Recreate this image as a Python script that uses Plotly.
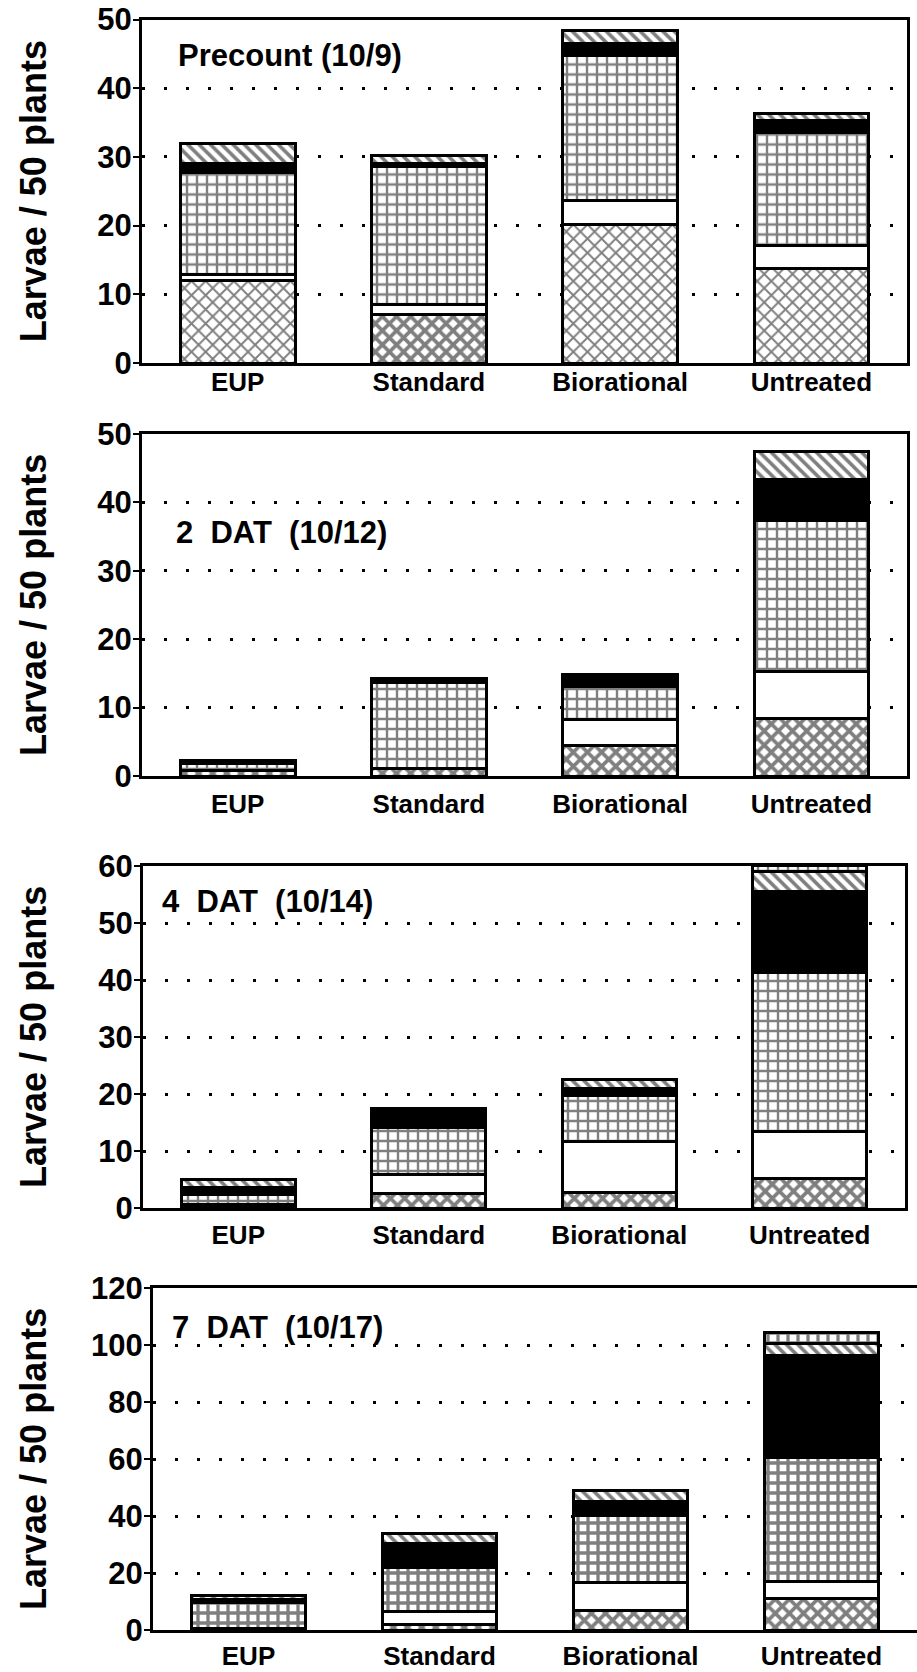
import plotly.graph_objects as go

# ---------------- data ----------------
categories = ["EUP", "Standard", "Biorational", "Untreated"]
panel_titles = ["Precount (10/9)", "2\u00a0\u00a0DAT\u00a0\u00a0(10/12)",
                "4\u00a0\u00a0DAT\u00a0\u00a0(10/14)", "7\u00a0\u00a0DAT\u00a0\u00a0(10/17)"]
y_title = "Larvae / 50 plants"
y_max = [50, 50, 60, 120]
y_step = [10, 10, 10, 20]

# stacked segments, bottom -> top (A crosshatch, B white, C grid, D black, E diagonal, F top grid)
precount_A = [12.0, 7.1, 20.1, 13.7]
precount_B = [0.85, 1.35, 3.6, 3.4]
precount_C = [14.85, 20.15, 21.0, 16.5]
precount_D = [1.4, 0.5, 1.8, 1.7]
precount_E = [2.8, 1.05, 1.9, 1.0]
precount_F = [None, None, None, None]

dat2_A = [0.8, 1.1, 4.4, 8.4]
dat2_B = [None, None, 3.8, 6.9]
dat2_C = [1.0, 12.5, 4.9, 22.0]
dat2_D = [0.4, 0.4, 1.3, 6.1]
dat2_E = [None, 0.3, 0.5, 4.1]
dat2_F = [None, None, None, None]

dat4_A = [0.3, 2.5, 2.8, 5.2]
dat4_B = [0.4, 3.4, 8.8, 8.3]
dat4_C = [1.6, 8.2, 8.2, 27.9]
dat4_D = [1.3, 3.4, 1.2, 14.1]
dat4_E = [1.4, None, 1.5, 3.6]
dat4_F = [None, None, None, 1.0]

dat7_A = [0.4, 2.0, 6.7, 11.2]
dat7_B = [None, 4.5, 9.9, 5.8]
dat7_C = [9.2, 15.5, 23.6, 43.7]
dat7_D = [1.0, 8.2, 5.0, 35.6]
dat7_E = [1.5, 3.8, 3.6, 4.3]
dat7_F = [None, None, None, 3.9]

panels = [
    [precount_A, precount_B, precount_C, precount_D, precount_E, precount_F],
    [dat2_A, dat2_B, dat2_C, dat2_D, dat2_E, dat2_F],
    [dat4_A, dat4_B, dat4_C, dat4_D, dat4_E, dat4_F],
    [dat7_A, dat7_B, dat7_C, dat7_D, dat7_E, dat7_F],
]
series_names = ["Segment A", "Segment B", "Segment C", "Segment D", "Segment E", "Segment F"]

# ---------------- layout geometry (pixels) ----------------
W, H = 917, 1672
x_dom_px = [(142, 907), (142, 907), (143, 905), (153, 917)]
y_dom_px = [(19.5, 363), (434, 776), (866, 1208), (1288, 1630)]
title_pos_px = [(176, 55), (174, 533), (160, 901), (170, 1327)]
xlabel_standoff = [-6, 3, 2, 1]

FONT = "Liberation Sans, Arial, sans-serif"

crosshatch_solidity = [[0.35, 0.6, 0.35, 0.35], [0.6] * 4, [0.6] * 4, [0.6] * 4]
grid_solidity = [0.42, 0.42, 0.42, 0.55]


def seg_marker(k, p):
    base = dict(line=dict(color="black", width=3))
    if k == 0:
        base.update(color="white", pattern=dict(shape="x", fgcolor="black", bgcolor="white",
                                                size=10, solidity=crosshatch_solidity[p]))
    elif k == 1:
        base.update(color="white")
    elif k in (2, 5):
        base.update(color="white", pattern=dict(shape="+", fgcolor="black", bgcolor="white",
                                                size=10, solidity=grid_solidity[p]))
    elif k == 3:
        base.update(color="black")
    else:
        base.update(color="white", pattern=dict(shape="\\", fgcolor="black", bgcolor="white",
                                                size=8, solidity=0.45))
    return base


fig = go.Figure()
for p, series in enumerate(panels):
    ax = "" if p == 0 else str(p + 1)
    for k, vals in enumerate(series):
        fig.add_trace(go.Bar(
            x=categories, y=vals, name=series_names[k],
            xaxis="x" + ax, yaxis="y" + ax,
            marker=seg_marker(k, p), showlegend=False,
        ))

layout = dict(
    width=W, height=H, margin=dict(l=0, r=0, t=0, b=0, autoexpand=False),
    paper_bgcolor="white", plot_bgcolor="white",
    barmode="stack", bargap=0.4, showlegend=False,
    annotations=[],
)
for p in range(4):
    ax = "" if p == 0 else str(p + 1)
    x0, x1 = x_dom_px[p]
    yt, yb = y_dom_px[p]
    layout["xaxis" + ax] = dict(
        domain=[x0 / W, x1 / W], anchor="y" + ax, type="category", automargin=False,
        showline=True, linewidth=3, linecolor="black", mirror=True,
        ticks="", showgrid=False, ticklabelstandoff=xlabel_standoff[p],
        tickfont=dict(family=FONT, size=26, color="black", weight="bold"),
    )
    layout["yaxis" + ax] = dict(
        domain=[1 - yb / H, 1 - yt / H], anchor="x" + ax, automargin=False,
        range=[0, y_max[p]], dtick=y_step[p], tick0=0,
        showline=True, linewidth=3, linecolor="black", mirror=True,
        ticks="outside", ticklen=6, tickwidth=2, tickcolor="black",
        ticklabelstandoff=-5,
        showgrid=True, gridcolor="black", gridwidth=2.5, griddash="3px,19px",
        zeroline=False,
        tickfont=dict(family=FONT, size=31, color="black", weight="bold"),
    )
    tx, ty = title_pos_px[p]
    layout["annotations"].append(dict(
        text=panel_titles[p], x=tx / W, y=1 - ty / H, xref="paper", yref="paper",
        xanchor="left", yanchor="middle", showarrow=False,
        font=dict(family=FONT, size=31, color="black", weight="bold"),
    ))
    layout["annotations"].append(dict(
        text=y_title, x=33 / W, y=1 - (yt + yb) / 2 / H, xref="paper", yref="paper",
        xanchor="center", yanchor="middle", textangle=-90, showarrow=False,
        font=dict(family=FONT, size=36, color="black", weight="bold"),
    ))

fig.update_layout(**layout)
fig.write_html("out.html")
